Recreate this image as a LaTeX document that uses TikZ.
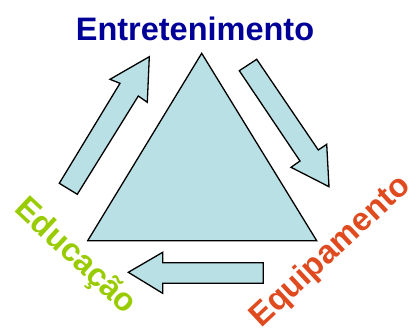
\documentclass[tikz,border=0pt]{standalone}
\usepackage{fontspec}
\setmainfont{Liberation Sans}
\definecolor{shapefill}{RGB}{185,224,228}
\definecolor{entblue}{RGB}{0,0,153}
\definecolor{edugreen}{RGB}{153,204,0}
\definecolor{equiporange}{RGB}{224,74,31}
\tikzset{
  shapebox/.style={draw=black, line width=1.3pt, fill=shapefill, line join=miter},
  label/.style={font=\fontsize{32.5}{32.5}\selectfont\bfseries, inner sep=0pt, anchor=center}
}
\begin{document}
\begin{tikzpicture}[x=1pt,y=-1pt]
\useasboundingbox (0,0) rectangle (410,327);
% triangle
\draw[shapebox] (201.7,53.3) coordinate (apex) -- (316.7,240.7) coordinate (br) -- (87.7,240.7) coordinate (bl) -- cycle;
% upper-left arrow (towards Entretenimento)
\draw[shapebox] (59.3,183.3) -- (120,83.3) -- (110,79.3) -- (149.3,56.7) -- (147.3,102.3) -- (138.3,96) -- (77.3,194.3) -- cycle;
% right arrow (towards Equipamento)
\draw[shapebox] (256.7,59.3) -- (318.3,150) -- (326.7,144.3) -- (329,186.7) -- (291,167.3) -- (300,161) -- (239.3,70.7) -- cycle;
% bottom arrow (towards Educacao)
\draw[shapebox] (263.3,262.7) -- (162.7,262.7) -- (162.7,252.3) -- (128.3,272.3) -- (162.7,293.3) -- (162.7,283.3) -- (263.3,283.3) -- cycle;
% labels
\node[label, text=entblue] (ent) at (195,28.5) {Entretenimento};
\node[label, text=edugreen, rotate=-43] (edu) at (75,257) {Educação};
\node[label, text=equiporange, rotate=43] (equip) at (331,252) {Equipamento};
\end{tikzpicture}
\end{document}
